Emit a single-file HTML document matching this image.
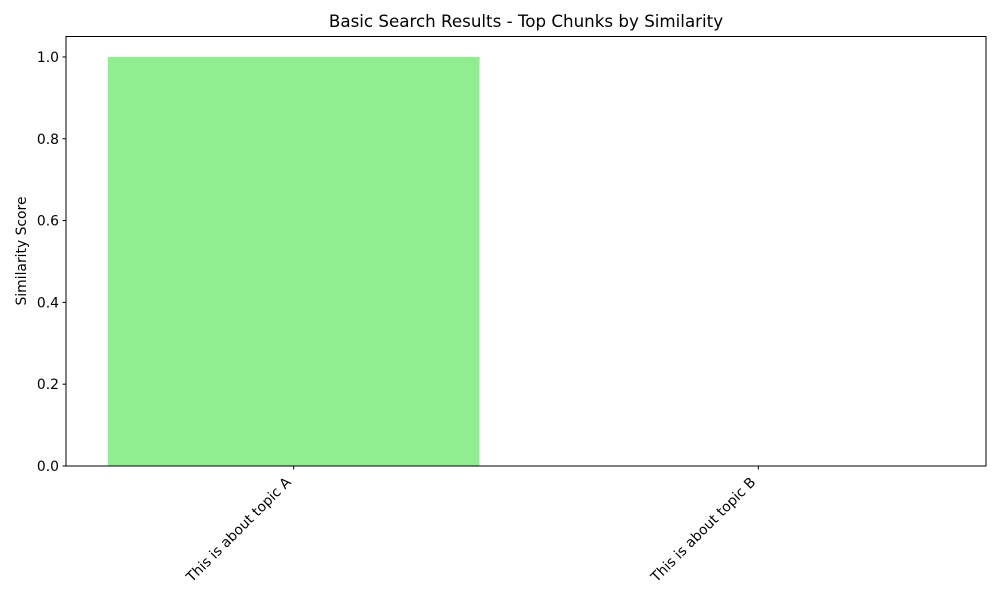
<!DOCTYPE html>
<html><head><meta charset="utf-8"><style>
body{margin:0;background:#fff;}
svg{display:block;font-family:"DejaVu Sans","Liberation Sans",sans-serif;}
</style></head><body>
<svg id="chart" width="1000" height="600" viewBox="0 0 1000 600">
<rect width="1000" height="600" fill="#fff"/>
<text x="526" y="27" text-anchor="middle" font-size="16.7">Basic Search Results - Top Chunks by Similarity</text>
<text transform="translate(26,251) rotate(-90)" text-anchor="middle" font-size="13.9">Similarity Score</text>
<g id="bars"></g>
<g id="yticks"></g>
<g id="xticks"></g>
<rect x="66" y="36.5" width="920" height="429.5" fill="none" stroke="#000" stroke-width="1"/>
</svg>
<script>
const categories = ["This is about topic A", "This is about topic B"];
const scores = [1.0, 0.0];
const yTicks = [0, 0.2, 0.4, 0.6, 0.8, 1.0];
const yTickLabels = ["0.0", "0.2", "0.4", "0.6", "0.8", "1.0"];

const L=66,R=986,T=36.5,B=466;
const xMin=-0.49,xMax=categories.length-1+0.49, yMax=1.05;
const xs=v=>L+(v-xMin)/(xMax-xMin)*(R-L);
const ys=v=>B-v/yMax*(B-T);
const NS="http://www.w3.org/2000/svg";
const bw=0.8*(xs(1)-xs(0));
const gb=document.getElementById('bars'),gy=document.getElementById('yticks'),gx=document.getElementById('xticks');
scores.forEach((s,i)=>{
  const r=document.createElementNS(NS,'rect');
  r.setAttribute('x',xs(i)-bw/2);r.setAttribute('y',ys(s));
  r.setAttribute('width',bw);r.setAttribute('height',B-ys(s));
  r.setAttribute('fill','#90ee90');
  
  
  gb.appendChild(r);
});
yTicks.forEach((v,i)=>{
  const y=ys(v);
  const l=document.createElementNS(NS,'line');
  l.setAttribute('x1',L-3.5);l.setAttribute('x2',L);l.setAttribute('y1',y);l.setAttribute('y2',y);l.setAttribute('stroke','#000');
  
  
  gy.appendChild(l);
  const t=document.createElementNS(NS,'text');
  t.setAttribute('x',L-7);t.setAttribute('y',y+5);t.setAttribute('text-anchor','end');t.setAttribute('font-size','13.9');
  t.textContent=yTickLabels[i];
  
  
  gy.appendChild(t);
});
categories.forEach((c,i)=>{
  const x=xs(i);
  const l=document.createElementNS(NS,'line');
  l.setAttribute('x1',x);l.setAttribute('x2',x);l.setAttribute('y1',B);l.setAttribute('y2',B+3.5);l.setAttribute('stroke','#000');
  
  
  gx.appendChild(l);
  const t=document.createElementNS(NS,'text');
  t.setAttribute('transform','translate('+(x-2)+','+(B+17)+') rotate(-45)');
  t.setAttribute('text-anchor','end');t.setAttribute('font-size','13.9');
  t.textContent=c;
  
  
  gx.appendChild(t);
});
</script>
</body></html>
